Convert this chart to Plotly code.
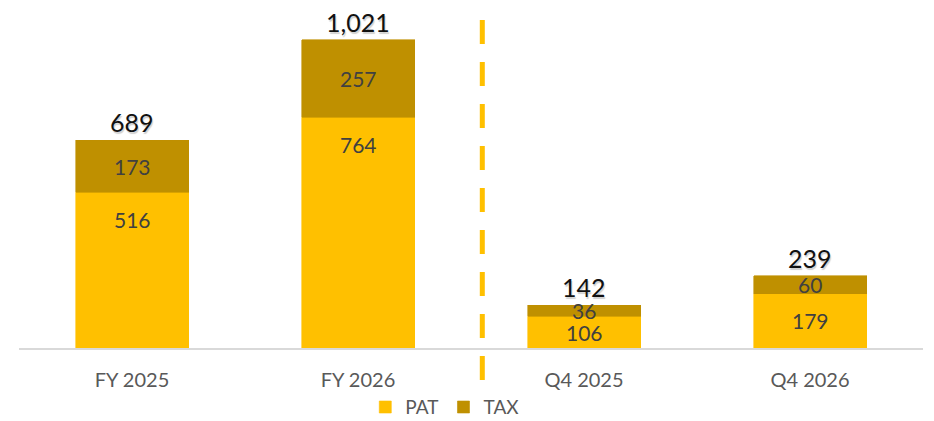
import plotly.graph_objects as go

categories = ["FY 2025", "FY 2026", "Q4 2025", "Q4 2026"]
pat = [516, 764, 106, 179]
tax = [173, 257, 36, 60]
totals = [689, 1021, 142, 239]
total_labels = ["689", "1,021", "142", "239"]

PAT_COLOR = "#FFC000"
TAX_COLOR = "#BF9000"
LABEL_FONT = "Lato"

fig = go.Figure()
fig.add_trace(go.Bar(name="PAT", x=categories, y=pat, marker_color=PAT_COLOR,
                     marker_line=dict(width=0.6, color=PAT_COLOR),
                     width=0.5, hoverinfo="skip"))
fig.add_trace(go.Bar(name="TAX", x=categories, y=tax, marker_color=TAX_COLOR,
                     marker_line=dict(width=0.6, color=TAX_COLOR),
                     width=0.5, hoverinfo="skip"))

Y_MAX = 1120
PLOT_H = 338
px_per_unit = PLOT_H / Y_MAX
inside_offset = 27 / px_per_unit

annotations = []
for c, p, t, tot, tl in zip(categories, pat, tax, totals, total_labels):
    py = max(p - inside_offset, p / 2)
    annotations.append(dict(x=c, y=py, xref="x", yref="y", text=str(p), showarrow=False,
                            font=dict(family=LABEL_FONT, size=21, color="#404040"),
                            yanchor="middle"))
    annotations.append(dict(x=c, y=p + t / 2, xref="x", yref="y", text=str(t), showarrow=False,
                            font=dict(family=LABEL_FONT, size=21, color="#404040"),
                            yanchor="middle"))
    annotations.append(dict(x=c, y=tot, xref="x", yref="y", text=tl, showarrow=False,
                            font=dict(family="Lato", size=25, color="#111111",
                                      shadow="1px 2px 1px #d0d0d0"),
                            yanchor="bottom", yshift=1))

fig.update_layout(
    barmode="stack",
    width=934, height=421,
    margin=dict(l=19, r=11, t=10, b=73, autoexpand=False),
    plot_bgcolor="white", paper_bgcolor="white",
    showlegend=True,
    legend=dict(orientation="h", traceorder="normal", x=0.471, xanchor="center",
                y=-0.175, yanchor="middle",
                font=dict(family=LABEL_FONT, size=19, color="#595959"),
                itemwidth=30, tracegroupgap=0),
    annotations=annotations,
    shapes=[dict(type="line", xref="x", yref="paper", x0=1.55, x1=1.55, y0=-0.095, y1=0.976,
                 line=dict(color=PAT_COLOR, width=5, dash="24px,18px"))],
    xaxis=dict(showline=True, linecolor="#D9D9D9", linewidth=2, showgrid=False,
               automargin=False,
               ticks="", tickfont=dict(family=LABEL_FONT, size=20, color="#595959"),
               ticklabelstandoff=13),
    yaxis=dict(range=[0, Y_MAX], visible=False, showgrid=False, automargin=False),
)

fig.write_html("out.html", config={"displayModeBar": False},
               post_script="document.body.style.margin='0';document.body.style.overflow='hidden';")
